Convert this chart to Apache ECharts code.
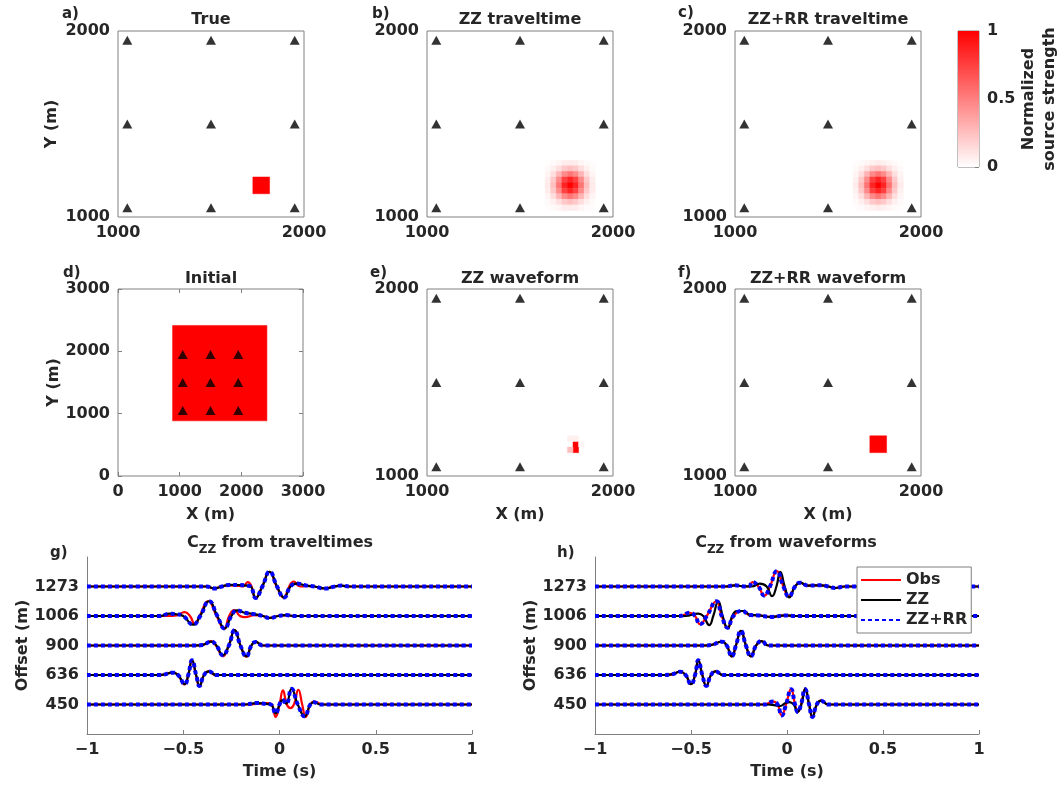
<!DOCTYPE html>
<html>
<head>
<meta charset="utf-8">
<script src="https://cdn.jsdelivr.net/npm/echarts@6/dist/echarts.min.js"></script>
<style>
  html, body { margin: 0; padding: 0; background: #fff; }
  #main { width: 1064px; height: 785px; }
</style>
</head>
<body>
<div id="main"></div>
<script>
// receiver grid (m)
const stationX = [1050, 1500, 1950];
const stationY = [1050, 1500, 1950];

// rectangular sources: [xmin, xmax, ymin, ymax, strength]
const trueSource = [[1725, 1815, 1125, 1215, 1]];
const initialSource = [[885, 2415, 885, 2415, 1]];
const zzrrWaveSource = [[1725, 1815, 1125, 1215, 1]];

// single 30 m cells: [xcenter, ycenter, strength]
const zzWaveCells = [[1800, 1140, 1], [1800, 1170, 1], [1770, 1140, 0.25],
  [1770, 1200, 0.06], [1800, 1200, 0.06], [1830, 1170, 0.04]];

// traveltime inversions, 30 m cells (rows top -> bottom)
const blobX = [1650, 1680, 1710, 1740, 1770, 1800, 1830, 1860, 1890];
const blobY = [1290, 1260, 1230, 1200, 1170, 1140, 1110, 1080, 1050];
const blobZZ = [
  [0.01, 0.02, 0.04, 0.07, 0.08, 0.07, 0.04, 0.02, 0.01],
  [0.02, 0.06, 0.13, 0.21, 0.25, 0.21, 0.13, 0.06, 0.02],
  [0.04, 0.13, 0.29, 0.46, 0.54, 0.46, 0.29, 0.13, 0.04],
  [0.07, 0.21, 0.46, 0.74, 0.86, 0.74, 0.46, 0.21, 0.07],
  [0.08, 0.25, 0.54, 0.86, 1.00, 0.86, 0.54, 0.25, 0.08],
  [0.07, 0.21, 0.46, 0.74, 0.86, 0.74, 0.46, 0.21, 0.07],
  [0.04, 0.13, 0.29, 0.46, 0.54, 0.46, 0.29, 0.13, 0.04],
  [0.02, 0.06, 0.13, 0.21, 0.25, 0.21, 0.13, 0.06, 0.02],
  [0.01, 0.02, 0.04, 0.07, 0.08, 0.07, 0.04, 0.02, 0.01]
];
const blobZZRR = [
  [0.01, 0.02, 0.04, 0.06, 0.08, 0.06, 0.04, 0.02, 0.01],
  [0.02, 0.06, 0.13, 0.21, 0.25, 0.21, 0.13, 0.06, 0.02],
  [0.04, 0.13, 0.30, 0.46, 0.55, 0.46, 0.30, 0.13, 0.04],
  [0.06, 0.21, 0.46, 0.75, 0.86, 0.75, 0.46, 0.21, 0.06],
  [0.08, 0.25, 0.55, 0.86, 1.00, 0.86, 0.55, 0.25, 0.08],
  [0.06, 0.21, 0.46, 0.75, 0.86, 0.75, 0.46, 0.21, 0.06],
  [0.04, 0.13, 0.30, 0.46, 0.55, 0.46, 0.30, 0.13, 0.04],
  [0.02, 0.06, 0.13, 0.21, 0.25, 0.21, 0.13, 0.06, 0.02],
  [0.01, 0.02, 0.04, 0.06, 0.08, 0.06, 0.04, 0.02, 0.01]
];

// cross-correlation traces, offsets bottom -> top
const offsets = [450, 636, 900, 1006, 1273];

// g) from traveltimes: [time (s), amplitude]
const gObs450 = [[-0.16,0],[-0.06,0.05],[-0.04,0],[-0.02,-0.42],[0.0,0],[0.018,0.48],[0.038,0],[0.057,-0.12],[0.075,0],[0.098,0.5],[0.118,0],[0.136,-0.42],[0.16,0],[0.183,0.1],[0.22,0]];
const gObs636 = [[-0.62,0],[-0.553,0.08],[-0.527,0],[-0.494,-0.32],[-0.474,0],[-0.455,0.5],[-0.434,0],[-0.416,-0.38],[-0.393,0],[-0.368,0.12],[-0.33,0]];
const gObs900 = [[-0.44,0],[-0.40,0.02],[-0.356,0.15],[-0.33,0],[-0.294,-0.36],[-0.264,0],[-0.233,0.52],[-0.203,0],[-0.172,-0.38],[-0.146,0],[-0.124,0.12],[-0.086,0]];
const gObs1006 = [[-0.58,0],[-0.535,0.02],[-0.493,0.13],[-0.465,0],[-0.44,-0.28],[-0.415,0],[-0.37,0.5],[-0.327,0],[-0.287,-0.44],[-0.262,0],[-0.235,0.2],[-0.205,0],[-0.18,-0.04],[-0.13,0.03],[-0.086,0],[-0.051,-0.06],[-0.008,0],[0.035,0.03],[0.07,0]];
const gObs1273 = [[-0.38,0],[-0.34,-0.06],[-0.30,0],[-0.26,0.04],[-0.21,0.02],[-0.19,0],[-0.165,0.15],[-0.145,0],[-0.125,-0.4],[-0.09,0],[-0.052,0.5],[-0.015,0],[0.022,-0.38],[0.05,0],[0.074,0.17],[0.1,0.02],[0.12,0],[0.14,0.02],[0.18,0],[0.235,-0.06],[0.28,0],[0.32,0.03],[0.36,0]];

const gZZ450 = [[-0.18,0],[-0.12,0.05],[-0.07,0.02],[-0.045,0],[-0.02,-0.3],[0.0,0],[0.015,0.15],[0.035,0.03],[0.062,0.53],[0.095,0],[0.131,-0.4],[0.16,0],[0.18,0.08],[0.21,0]];
const gZZ636 = [[-0.62,0],[-0.553,0.08],[-0.527,0],[-0.492,-0.31],[-0.474,0],[-0.454,0.5],[-0.433,0],[-0.415,-0.37],[-0.392,0],[-0.366,0.12],[-0.328,0]];
const gZZ900 = [[-0.44,0],[-0.40,0.02],[-0.354,0.13],[-0.328,0],[-0.294,-0.33],[-0.263,0],[-0.233,0.52],[-0.203,0],[-0.172,-0.37],[-0.146,0],[-0.124,0.12],[-0.086,0]];
const gZZ1006 = [[-0.62,0],[-0.57,0.08],[-0.535,0.06],[-0.50,0],[-0.449,-0.29],[-0.412,0],[-0.366,0.5],[-0.323,0],[-0.285,-0.42],[-0.25,0],[-0.221,0.19],[-0.181,0.11],[-0.138,0.07],[-0.086,0],[-0.051,-0.067],[-0.008,0],[0.035,0.03],[0.07,0]];
const gZZ1273 = [[-0.38,0],[-0.337,-0.067],[-0.30,0],[-0.26,0.055],[-0.21,0.05],[-0.17,0.03],[-0.15,0],[-0.124,-0.39],[-0.089,0],[-0.051,0.5],[-0.013,0],[0.024,-0.37],[0.057,0],[0.088,0.1],[0.14,0.03],[0.183,0],[0.235,-0.067],[0.287,0],[0.322,0.03],[0.365,0]];

// h) from waveforms
const hObs450 = [[-0.12,0],[-0.071,0.1],[-0.049,0],[-0.028,-0.37],[-0.005,0],[0.021,0.52],[0.042,0],[0.056,-0.25],[0.073,0],[0.094,0.52],[0.115,0],[0.132,-0.42],[0.155,0],[0.177,0.13],[0.215,0]];
const hObs636 = [[-0.64,0],[-0.601,0.02],[-0.557,0.11],[-0.528,0],[-0.5,-0.31],[-0.479,0],[-0.462,0.5],[-0.441,0],[-0.42,-0.37],[-0.396,0],[-0.372,0.12],[-0.332,0]];
const hObs900 = [[-0.43,0],[-0.392,0.02],[-0.34,0.13],[-0.314,0],[-0.288,-0.37],[-0.266,0],[-0.24,0.5],[-0.214,0],[-0.188,-0.37],[-0.161,0],[-0.132,0.15],[-0.097,0]];
const hObs1006 = [[-0.56,0],[-0.505,0.11],[-0.479,0],[-0.453,-0.28],[-0.418,0],[-0.368,0.5],[-0.34,0],[-0.309,-0.4],[-0.279,0],[-0.233,0.17],[-0.193,0.03],[-0.149,0.02],[-0.08,-0.03],[-0.01,0.02],[0.04,0]];
const hObs1273 = [[-0.32,0],[-0.271,0.04],[-0.235,0.01],[-0.2,0],[-0.18,0.15],[-0.149,0],[-0.118,-0.31],[-0.089,0],[-0.053,0.52],[-0.019,0],[0.01,-0.34],[0.042,0],[0.068,0.13],[0.111,0.03],[0.18,0.04],[0.215,0],[0.25,-0.05],[0.3,0]];

const hZZ450 = [[-0.1,0],[-0.06,-0.03],[-0.035,-0.05],[-0.01,0.04],[0.012,0.08],[0.035,0],[0.055,-0.25],[0.075,0],[0.096,0.55],[0.115,0],[0.133,-0.42],[0.155,0],[0.177,0.13],[0.215,0]];
const hZZ636 = [[-0.64,0],[-0.601,0.02],[-0.557,0.11],[-0.528,0],[-0.5,-0.31],[-0.479,0],[-0.462,0.5],[-0.441,0],[-0.42,-0.37],[-0.396,0],[-0.372,0.12],[-0.332,0]];
const hZZ900 = [[-0.43,0],[-0.392,0.02],[-0.34,0.13],[-0.314,0],[-0.288,-0.37],[-0.266,0],[-0.24,0.5],[-0.214,0],[-0.188,-0.37],[-0.161,0],[-0.132,0.15],[-0.097,0]];
const hZZ1006 = [[-0.53,0],[-0.462,0.08],[-0.436,0],[-0.405,-0.31],[-0.384,0],[-0.358,0.5],[-0.335,0],[-0.309,-0.42],[-0.285,0],[-0.262,0.17],[-0.227,0.17],[-0.193,0.04],[-0.149,0.02],[-0.08,-0.03],[-0.01,0.02],[0.04,0]];
const hZZ1273 = [[-0.32,0],[-0.271,0.04],[-0.235,0.01],[-0.184,0],[-0.141,0.1],[-0.106,0],[-0.078,-0.33],[-0.055,0],[-0.035,0.5],[-0.012,0],[0.012,-0.37],[0.042,0],[0.068,0.12],[0.111,0.03],[0.18,0.04],[0.215,0],[0.25,-0.05],[0.3,0]];

const gray = '#808080';
const ink = '#262626';
const fam = 'DejaVu Sans';
const lab = { color: ink, fontFamily: fam, fontWeight: 'bold', fontSize: 16 };
const plain = v => String(v);

const grids = [], xAxes = [], yAxes = [], series = [], cellSeries = [];

const stations = [];
stationY.forEach(y => stationX.forEach(x => stations.push([x, y])));

function centerCells(list) {
  return list.map(c => [c[0] - 15, c[0] + 15, c[1] - 15, c[1] + 15, c[2]]);
}
function matrixCells(m) {
  const out = [];
  m.forEach((row, r) => row.forEach((v, c) => out.push([blobX[c] - 15, blobX[c] + 15, blobY[r] - 15, blobY[r] + 15, v])));
  return out;
}

function renderCell(params, api) {
  const p0 = api.coord([api.value(0), api.value(3)]);
  const p1 = api.coord([api.value(1), api.value(2)]);
  const col = api.visual('color');
  return {
    type: 'rect',
    shape: { x: p0[0], y: p0[1], width: p1[0] - p0[0], height: p1[1] - p0[1] },
    style: { fill: col, stroke: col, lineWidth: 0.5 }
  };
}

function addMap(box, min, max, cells, opt) {
  const gi = grids.length;
  grids.push(Object.assign({ show: true, borderColor: gray, borderWidth: 1, backgroundColor: '#fff' }, box));
  const xi = xAxes.length, yi = yAxes.length;
  const tick = { show: !!opt.ticks, inside: true, length: 4, lineStyle: { color: gray } };
  xAxes.push({
    type: 'value', gridIndex: gi, min: min, max: max, interval: 1000,
    axisLine: { show: false, onZero: false }, axisTick: tick, splitLine: { show: false },
    axisLabel: Object.assign({ margin: 8, showMinLabel: true, showMaxLabel: true, formatter: plain }, lab),
    name: opt.xName || '', nameLocation: 'middle', nameGap: 31, nameTextStyle: lab
  });
  yAxes.push({
    type: 'value', gridIndex: gi, min: min, max: max, interval: 1000,
    axisLine: { show: false, onZero: false }, axisTick: tick, splitLine: { show: false },
    axisLabel: Object.assign({ margin: 8, showMinLabel: true, showMaxLabel: true, formatter: plain }, lab),
    name: opt.yName || '', nameLocation: 'middle', nameGap: opt.yGap || 58, nameTextStyle: lab
  });
  if (opt.ticks) {
    xAxes.push({ type: 'value', gridIndex: gi, position: 'top', min: min, max: max, interval: 1000,
      axisLine: { show: false, onZero: false }, axisTick: tick, axisLabel: { show: false }, splitLine: { show: false } });
    yAxes.push({ type: 'value', gridIndex: gi, position: 'right', min: min, max: max, interval: 1000,
      axisLine: { show: false, onZero: false }, axisTick: tick, axisLabel: { show: false }, splitLine: { show: false } });
  }
  series.push({
    type: 'custom', xAxisIndex: xi, yAxisIndex: yi, renderItem: renderCell,
    encode: { x: [0, 1], y: [2, 3] }, data: cells, clip: true, silent: true
  });
  cellSeries.push(series.length - 1);
  series.push({
    type: 'scatter', xAxisIndex: xi, yAxisIndex: yi, symbol: 'triangle', symbolSize: [10, 9],
    itemStyle: { color: '#000' }, data: stations, silent: true, z: 3
  });
}

function trace(tr, level) {
  const pts = [[-1, level]];
  tr.forEach(p => pts.push([p[0], level + p[1]]));
  pts.push([1, level]);
  return pts;
}

function addWave(box, obs, zz, zzrr) {
  const gi = grids.length;
  grids.push(Object.assign({ show: false }, box));
  const xi = xAxes.length, yi = yAxes.length;
  xAxes.push({
    type: 'value', gridIndex: gi, min: -1, max: 1, interval: 0.5,
    axisLine: { show: true, onZero: false, lineStyle: { color: gray } },
    axisTick: { show: true, inside: true, length: 4, lineStyle: { color: gray } },
    splitLine: { show: false },
    axisLabel: Object.assign({ margin: 8, formatter: v => String(v).replace('-', '\u2212') }, lab),
    name: 'Time (s)', nameLocation: 'middle', nameGap: 30, nameTextStyle: lab
  });
  yAxes.push({
    type: 'value', gridIndex: gi, min: 0, max: 6, interval: 1,
    axisLine: { show: true, onZero: false, lineStyle: { color: gray } },
    axisTick: { show: false }, splitLine: { show: false },
    axisLabel: Object.assign({ margin: 8, formatter: v => (v >= 1 && v <= 5) ? String(offsets[v - 1]) : '' }, lab),
    name: 'Offset (m)', nameLocation: 'middle', nameGap: 56, nameTextStyle: lab
  });
  const styles = [
    ['Obs', obs, { color: '#ff0000', width: 2.2, type: 'solid' }],
    ['ZZ', zz, { color: '#000000', width: 2.2, type: 'solid' }],
    ['ZZ+RR', zzrr, { color: '#0000ff', width: 4, type: [4, 3] }]
  ];
  styles.forEach(s => {
    s[1].forEach((tr, i) => {
      series.push({
        type: 'line', name: s[0], xAxisIndex: xi, yAxisIndex: yi,
        data: trace(tr, i + 1), smooth: 0.5, symbol: 'none', showSymbol: false,
        lineStyle: s[2], itemStyle: { color: s[2].color }, silent: true
      });
    });
  });
}

// row 1
addMap({ left: 118, top: 31, width: 186, height: 186 }, 1000, 2000, trueSource, { yName: 'Y (m)', yGap: 58 });
addMap({ left: 427, top: 31, width: 186, height: 186 }, 1000, 2000, matrixCells(blobZZ), {});
addMap({ left: 735, top: 31, width: 186, height: 186 }, 1000, 2000, matrixCells(blobZZRR), {});
// row 2
addMap({ left: 118, top: 289, width: 185, height: 187 }, 0, 3000, initialSource, { yName: 'Y (m)', yGap: 54, xName: 'X (m)', ticks: true });
addMap({ left: 427, top: 289, width: 186, height: 187 }, 1000, 2000, centerCells(zzWaveCells), { xName: 'X (m)' });
addMap({ left: 735, top: 289, width: 186, height: 187 }, 1000, 2000, zzrrWaveSource, { xName: 'X (m)' });
// row 3
addWave({ left: 87, top: 557, width: 385, height: 177 },
  [gObs450, gObs636, gObs900, gObs1006, gObs1273],
  [gZZ450, gZZ636, gZZ900, gZZ1006, gZZ1273],
  [gZZ450, gZZ636, gZZ900, gZZ1006, gZZ1273]);
addWave({ left: 595, top: 557, width: 384, height: 177 },
  [hObs450, hObs636, hObs900, hObs1006, hObs1273],
  [hZZ450, hZZ636, hZZ900, hZZ1006, hZZ1273],
  [hObs450, hObs636, hObs900, hObs1006, hObs1273]);

// colorbar
const cbGrid = grids.length;
grids.push({ left: 958, top: 31, width: 21, height: 136, show: true, borderColor: gray, borderWidth: 1 });
const cbX = xAxes.length, cbY = yAxes.length;
xAxes.push({ type: 'category', gridIndex: cbGrid, data: [''], show: false });
yAxes.push({
  type: 'value', gridIndex: cbGrid, position: 'right', min: 0, max: 1, interval: 0.5,
  axisLine: { show: false }, splitLine: { show: false },
  axisTick: { show: true, inside: true, length: 4, lineStyle: { color: gray } },
  axisLabel: Object.assign({ margin: 8 }, lab)
});
series.push({
  type: 'bar', xAxisIndex: cbX, yAxisIndex: cbY, data: [1], barWidth: '100%', silent: true,
  itemStyle: { color: new echarts.graphic.LinearGradient(0, 1, 0, 0, [
    { offset: 0, color: '#ffffff' }, { offset: 1, color: '#ff0000' }]) }
});

function txt(x, y, text, size, align) {
  return { type: 'text', x: x, y: y, silent: true,
    style: { text: text, fill: ink, fontFamily: fam, fontWeight: 'bold', fontSize: size,
      align: align || 'center', verticalAlign: 'middle' } };
}
function subTitle(x, y, rest) {
  const base = { fill: ink, color: ink, fontFamily: fam, fontWeight: 'bold' };
  return { type: 'text', x: x, y: y, silent: true,
    style: { text: '{a|C}{b|ZZ}{a|' + rest + '}', align: 'center', verticalAlign: 'top',
      rich: {
        a: Object.assign({ fontSize: 16, lineHeight: 16, verticalAlign: 'top' }, base),
        b: Object.assign({ fontSize: 12, lineHeight: 21, verticalAlign: 'bottom' }, base)
      } } };
}

const graphics = [
  txt(211, 20, 'True', 16), txt(520, 20, 'ZZ traveltime', 16), txt(828, 20, 'ZZ+RR traveltime', 16),
  txt(211, 279, 'Initial', 16), txt(520, 279, 'ZZ waveform', 16), txt(828, 279, 'ZZ+RR waveform', 16),
  txt(62, 14, 'a)', 15, 'left'), txt(372, 14, 'b)', 15, 'left'), txt(678, 13, 'c)', 15, 'left'),
  txt(63, 273, 'd)', 15, 'left'), txt(370, 273, 'e)', 15, 'left'), txt(678, 273, 'f)', 15, 'left'),
  txt(50, 553, 'g)', 15, 'left'), txt(557, 553, 'h)', 15, 'left'),
  subTitle(280, 534.5, ' from traveltimes'), subTitle(786, 534.5, ' from waveforms'),
  { type: 'text', x: 1039.5, y: 99, rotation: Math.PI / 2, silent: true,
    style: { text: 'Normalized\nsource strength', fill: ink, fontFamily: fam, fontWeight: 'bold',
      fontSize: 16, lineHeight: 21, align: 'center', verticalAlign: 'middle' } }
];

const chart = echarts.init(document.getElementById('main'));
chart.setOption({
  animation: false,
  backgroundColor: '#fff',
  grid: grids,
  xAxis: xAxes,
  yAxis: yAxes,
  visualMap: {
    type: 'continuous', show: false, min: 0, max: 1, dimension: 4,
    seriesIndex: cellSeries, inRange: { color: ['#ffffff', '#ff0000'] }
  },
  legend: {
    data: ['Obs', 'ZZ', 'ZZ+RR'], orient: 'vertical', left: 857, top: 567,
    itemWidth: 40, itemHeight: 14, itemGap: 4, padding: [5, 4, 5, 3],
    borderColor: gray, borderWidth: 1, backgroundColor: '#fff',
    itemStyle: { opacity: 0 },
    textStyle: lab, selectedMode: false
  },
  graphic: graphics,
  series: series
});
window.addEventListener('resize', () => chart.resize());
</script>
</body>
</html>
